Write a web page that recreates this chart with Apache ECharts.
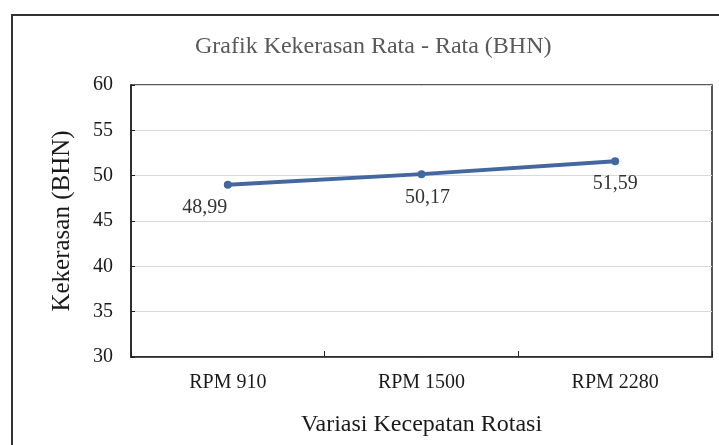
<!DOCTYPE html>
<html>
<head>
<meta charset="utf-8">
<script src="https://cdn.jsdelivr.net/npm/echarts@6/dist/echarts.min.js"></script>
<style>
  html, body { margin: 0; padding: 0; background: #fff; }
  #chart { width: 719px; height: 445px; }
</style>
</head>
<body>
<div id="chart"></div>
<script>
// data
const categories = ['RPM 910', 'RPM 1500', 'RPM 2280'];
const hardness = [48.99, 50.17, 51.59];
const yTicks = [30, 35, 40, 45, 50, 55, 60];

// where each value label sits relative to its point
const labelOffsets = [[-23, 23], [6, 24], [0, 22]];

const serif = '"Liberation Serif", "Times New Roman", serif';
const chart = echarts.init(document.getElementById('chart'));

chart.setOption({
  backgroundColor: '#fff',
  animation: false,
  title: {
    text: 'Grafik Kekerasan Rata - Rata (BHN)',
    left: 190,
    top: 30,
    textStyle: { fontFamily: serif, fontSize: 24, fontWeight: 'normal', color: '#595959' }
  },
  graphic: [{
    type: 'rect',
    shape: { x: 12, y: 15, width: 720, height: 440 },
    style: { fill: 'none', stroke: '#333', lineWidth: 2 },
    silent: true
  }],
  grid: {
    left: 131, right: 7, top: 85, bottom: 88,
    show: true, borderColor: '#222', borderWidth: 1.5, backgroundColor: 'transparent'
  },
  xAxis: {
    type: 'category',
    data: categories,
    boundaryGap: true,
    name: 'Variasi Kecepatan Rotasi',
    nameLocation: 'middle',
    nameGap: 56,
    nameTextStyle: { fontFamily: serif, fontSize: 24, color: '#1a1a1a' },
    axisLine: { lineStyle: { color: '#222', width: 1.5 } },
    axisTick: { show: true, inside: true, length: 6, lineStyle: { color: '#222' } },
    axisLabel: { fontFamily: serif, fontSize: 20, color: '#1a1a1a', margin: 16 },
    splitLine: { show: false }
  },
  yAxis: {
    type: 'value',
    min: yTicks[0],
    max: yTicks[yTicks.length - 1],
    interval: 5,
    name: 'Kekerasan (BHN)',
    nameLocation: 'middle',
    nameGap: 56,
    nameTextStyle: { fontFamily: serif, fontSize: 25, color: '#1a1a1a' },
    axisLine: { show: true, lineStyle: { color: '#222', width: 1.5 } },
    axisTick: { show: true, inside: true, length: 4, lineStyle: { color: '#222' } },
    axisLabel: { fontFamily: serif, fontSize: 20, color: '#1a1a1a', margin: 18 },
    splitLine: { show: true, lineStyle: { color: '#d9d9d9', width: 1 } }
  },
  series: [{
    type: 'line',
    data: hardness.map((v, i) => ({
      value: v,
      label: { offset: labelOffsets[i] }
    })),
    symbol: 'circle',
    symbolSize: 8,
    lineStyle: { color: '#43679f', width: 4 },
    itemStyle: { color: '#43679f' },
    label: {
      show: true,
      position: 'inside',
      fontFamily: serif,
      fontSize: 20,
      color: '#333',
      formatter: p => p.value.toFixed(2).replace('.', ',')
    }
  }]
});
</script>
</body>
</html>
